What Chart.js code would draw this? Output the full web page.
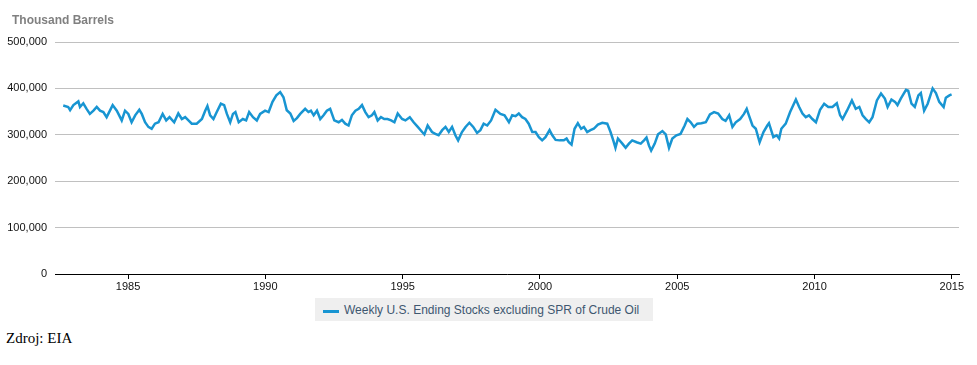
<!DOCTYPE html>
<html>
<head>
<meta charset="utf-8">
<script src="https://cdn.jsdelivr.net/npm/chart.js@4"></script>
<style>
  body { margin: 0; background: #fff; }
  #wrap { position: relative; width: 977px; height: 365px; }
  #chartBox { position: absolute; left: 0; top: 0; width: 977px; height: 300px; }
  #unit { position: absolute; left: 12px; top: 13px; font: bold 12px Arial, "Liberation Sans", sans-serif; color: #808080; }
  #legend { position: absolute; left: 315px; top: 298px; width: 338px; height: 23px; background: #efefef; }
  #legend .mark { position: absolute; left: 8px; top: 12px; width: 16px; height: 3px; }
  #legend .txt { position: absolute; left: 29px; top: 5px; font: 12px Arial, "Liberation Sans", sans-serif; color: #3e576f; white-space: nowrap; }
  #source { position: absolute; left: 6px; top: 330px; font: 15px "Liberation Serif", "Times New Roman", serif; color: #000; }
</style>
</head>
<body>
<div id="wrap">
  <div id="chartBox"><canvas id="stocksChart"></canvas></div>
  <div id="unit">Thousand Barrels</div>
  <div id="legend"></div>
  <div id="source">Zdroj: EIA</div>
</div>
<script>
const seriesLabel = 'Weekly U.S. Ending Stocks excluding SPR of Crude Oil';
const lineColor = '#1895d2';

const yearTicks = [1985, 1990, 1995, 2000, 2005, 2010, 2015];
const valueTicks = [0, 100000, 200000, 300000, 400000, 500000];

// decimal year of each reading
const weeks = [
  1982.64, 1982.82, 1982.89, 1983.01, 1983.19, 1983.25, 1983.37, 1983.49, 1983.61, 1983.74,
  1983.86, 1983.98, 1984.10, 1984.22, 1984.34, 1984.44, 1984.59, 1984.77, 1984.89, 1985.01,
  1985.13, 1985.26, 1985.41, 1985.50, 1985.62, 1985.74, 1985.86, 1985.98, 1986.11, 1986.26,
  1986.39, 1986.51, 1986.68, 1986.83, 1986.96, 1987.08, 1987.20, 1987.32, 1987.50, 1987.69,
  1987.81, 1987.89, 1987.99, 1988.11, 1988.23, 1988.38, 1988.50, 1988.60, 1988.72, 1988.82,
  1988.91, 1989.03, 1989.18, 1989.30, 1989.41, 1989.55, 1989.69, 1989.81, 1989.99, 1990.12,
  1990.26, 1990.40, 1990.54, 1990.66, 1990.78, 1990.91, 1991.03, 1991.15, 1991.27, 1991.45,
  1991.57, 1991.66, 1991.76, 1991.88, 1992.00, 1992.12, 1992.24, 1992.36, 1992.51, 1992.67,
  1992.79, 1992.91, 1993.03, 1993.15, 1993.28, 1993.40, 1993.52, 1993.64, 1993.76, 1993.88,
  1993.97, 1994.09, 1994.21, 1994.33, 1994.45, 1994.58, 1994.70, 1994.82, 1994.98, 1995.10,
  1995.26, 1995.40, 1995.55, 1995.71, 1995.79, 1995.91, 1996.07, 1996.19, 1996.31, 1996.44,
  1996.56, 1996.68, 1996.80, 1996.92, 1997.02, 1997.16, 1997.29, 1997.43, 1997.57, 1997.71,
  1997.83, 1997.95, 1998.08, 1998.22, 1998.38, 1998.56, 1998.71, 1998.87, 1998.99, 1999.11,
  1999.23, 1999.35, 1999.47, 1999.59, 1999.72, 1999.84, 1999.96, 2000.08, 2000.20, 2000.35,
  2000.45, 2000.57, 2000.72, 2000.87, 2000.97, 2001.05, 2001.15, 2001.26, 2001.38, 2001.50,
  2001.60, 2001.72, 2001.84, 2001.96, 2002.11, 2002.27, 2002.45, 2002.57, 2002.67, 2002.75,
  2002.84, 2003.00, 2003.12, 2003.24, 2003.36, 2003.52, 2003.67, 2003.79, 2003.88, 2003.97,
  2004.05, 2004.18, 2004.30, 2004.46, 2004.58, 2004.70, 2004.82, 2004.97, 2005.12, 2005.27,
  2005.37, 2005.49, 2005.61, 2005.73, 2005.88, 2006.04, 2006.19, 2006.34, 2006.49, 2006.64,
  2006.76, 2006.89, 2007.01, 2007.13, 2007.29, 2007.43, 2007.53, 2007.61, 2007.74, 2007.86,
  2008.00, 2008.14, 2008.28, 2008.34, 2008.50, 2008.62, 2008.71, 2008.79, 2008.95, 2009.11,
  2009.32, 2009.44, 2009.56, 2009.68, 2009.80, 2009.92, 2010.05, 2010.20, 2010.35, 2010.50,
  2010.65, 2010.81, 2010.93, 2011.02, 2011.18, 2011.36, 2011.50, 2011.63, 2011.75, 2011.87,
  2011.99, 2012.11, 2012.27, 2012.42, 2012.56, 2012.66, 2012.80, 2012.93, 2013.02, 2013.14,
  2013.33, 2013.41, 2013.53, 2013.65, 2013.78, 2013.87, 2013.99, 2014.12, 2014.30, 2014.42,
  2014.54, 2014.70, 2014.78, 2014.91, 2014.99
];

// thousand barrels
const stocks = [
  363000, 360000, 353000, 364000, 372000, 360000, 368000, 356000, 345000, 352000,
  360000, 352000, 349000, 338000, 352000, 364000, 352000, 331000, 352000, 345000,
  327000, 342000, 354000, 345000, 327000, 317000, 313000, 324000, 327000, 345000,
  331000, 338000, 327000, 346000, 334000, 338000, 331000, 324000, 324000, 334000,
  352000, 362000, 342000, 334000, 349000, 367000, 364000, 345000, 327000, 345000,
  349000, 327000, 334000, 331000, 349000, 338000, 331000, 345000, 352000, 349000,
  371000, 385000, 392000, 381000, 353000, 346000, 330000, 336000, 345000, 356000,
  349000, 352000, 342000, 352000, 334000, 342000, 352000, 356000, 331000, 327000,
  332000, 324000, 320000, 342000, 352000, 356000, 364000, 349000, 338000, 342000,
  349000, 331000, 338000, 334000, 334000, 331000, 327000, 346000, 334000, 331000,
  338000, 327000, 317000, 306000, 301000, 320000, 306000, 302000, 299000, 310000,
  317000, 306000, 317000, 299000, 288000, 306000, 317000, 326000, 317000, 304000,
  310000, 324000, 320000, 331000, 354000, 345000, 342000, 327000, 342000, 340000,
  346000, 338000, 334000, 324000, 306000, 306000, 295000, 288000, 295000, 310000,
  299000, 289000, 288000, 288000, 292000, 284000, 279000, 313000, 325000, 313000,
  317000, 306000, 310000, 313000, 322000, 326000, 324000, 306000, 288000, 272000,
  292000, 281000, 272000, 281000, 288000, 284000, 281000, 288000, 294000, 277000,
  266000, 281000, 301000, 308000, 301000, 272000, 292000, 299000, 302000, 320000,
  334000, 327000, 317000, 324000, 325000, 327000, 344000, 349000, 346000, 334000,
  330000, 342000, 317000, 327000, 334000, 345000, 356000, 342000, 320000, 313000,
  284000, 306000, 320000, 325000, 295000, 299000, 292000, 313000, 324000, 349000,
  376000, 360000, 346000, 338000, 342000, 334000, 327000, 354000, 367000, 360000,
  360000, 368000, 342000, 334000, 352000, 374000, 356000, 360000, 342000, 334000,
  327000, 338000, 374000, 389000, 378000, 360000, 376000, 371000, 364000, 378000,
  397000, 395000, 367000, 360000, 385000, 390000, 352000, 367000, 400000, 390000,
  371000, 360000, 380000, 385000, 387000
];

const points = weeks.map((w, i) => ({ x: w, y: stocks[i] }));

const legendBox = document.getElementById('legend');
legendBox.innerHTML = '<span class="mark" style="background:' + lineColor + '"></span><span class="txt">' + seriesLabel + '</span>';

const tickFont = { family: 'Arial, "Liberation Sans", sans-serif', size: 11 };

new Chart(document.getElementById('stocksChart'), {
  type: 'line',
  data: {
    datasets: [{
      label: seriesLabel,
      data: points,
      borderColor: lineColor,
      borderWidth: 2.5,
      pointRadius: 0,
      tension: 0,
      fill: false
    }]
  },
  options: {
    responsive: true,
    maintainAspectRatio: false,
    animation: false,
    layout: { padding: { top: 42, right: 18, left: 0, bottom: 0 } },
    plugins: {
      legend: { display: false },
      tooltip: { enabled: false }
    },
    scales: {
      x: {
        type: 'linear',
        min: 1982.34,
        max: 2015.26,
        afterBuildTicks: scale => { scale.ticks = yearTicks.map(v => ({ value: v })); },
        afterFit: scale => { scale.height = 26; },
        grid: { drawOnChartArea: false, drawTicks: true, tickLength: 5, color: '#000' },
        border: { color: '#000', width: 1 },
        ticks: { padding: 1, color: '#111', font: tickFont, maxRotation: 0, callback: v => String(v) }
      },
      y: {
        min: 0,
        max: 500000,
        afterBuildTicks: scale => { scale.ticks = valueTicks.map(v => ({ value: v })); },
        afterFit: scale => { scale.width = 55; },
        grid: { color: '#c0c0c0', drawTicks: false },
        border: { display: false },
        ticks: { padding: 8, color: '#111', font: tickFont, callback: v => v.toLocaleString('en-US') }
      }
    }
  }
});
</script>
</body>
</html>
